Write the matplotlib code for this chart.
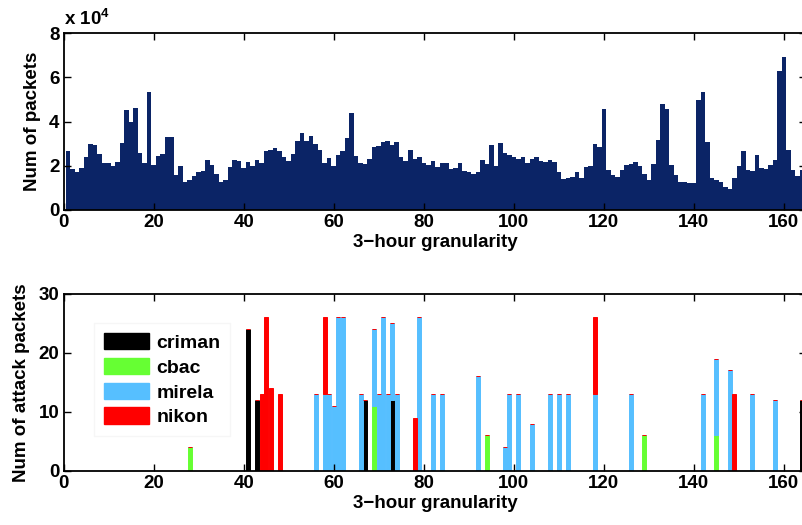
import matplotlib
matplotlib.use('Agg')
import matplotlib.pyplot as plt
import numpy as np

plt.rcParams['font.family'] = ['Liberation Sans', 'DejaVu Sans']
plt.rcParams['font.weight'] = 'bold'

# packets per 3-hour slot (x 1e4), slots 1..164
packets = [2.67, 1.85, 1.73, 1.91, 2.39, 2.98, 2.94, 2.53, 2.12, 2.12,
           1.99, 2.17, 3.03, 4.52, 3.98, 4.61, 2.58, 2.12, 5.33, 2.03,
           2.44, 2.53, 3.30, 3.30, 1.58, 1.99, 1.28, 1.36, 1.54, 1.72,
           1.76, 2.26, 2.03, 1.63, 1.28, 1.36, 1.94, 2.26, 2.21, 1.90,
           2.17, 1.99, 2.26, 2.12, 2.67, 2.71, 2.80, 2.67, 2.39, 2.21,
           2.53, 3.12, 3.48, 3.12, 3.34, 2.98, 2.71, 2.12, 2.35, 1.99,
           2.48, 2.67, 3.25, 4.38, 2.44, 2.12, 2.08, 2.30, 2.85, 2.89,
           3.07, 3.12, 2.94, 3.07, 2.39, 2.21, 2.71, 2.30, 2.39, 2.12,
           2.03, 2.21, 1.94, 2.12, 2.12, 1.85, 1.90, 2.12, 1.76, 1.72,
           1.63, 1.72, 2.26, 2.08, 2.94, 1.99, 3.03, 2.58, 2.48, 2.39,
           2.30, 2.39, 2.12, 2.30, 2.39, 2.21, 2.19, 2.26, 2.17, 1.72,
           1.40, 1.45, 1.49, 1.72, 1.45, 1.94, 1.99, 2.98, 2.85, 4.56,
           1.81, 1.58, 1.49, 1.81, 2.03, 2.08, 2.17, 1.99, 1.63, 1.36,
           2.08, 3.16, 4.79, 4.56, 2.03, 1.58, 1.27, 1.27, 1.22, 1.22,
           4.97, 5.33, 3.07, 1.45, 1.36, 1.27, 1.04, 0.95, 1.45, 1.99,
           2.67, 1.81, 1.76, 2.48, 1.90, 1.85, 2.03, 2.26, 6.28, 6.91,
           2.71, 1.81, 1.54, 1.81]

# attack packets: slot positions and counts for each attacker
criman_x = [41, 43, 67, 73, 164]
criman_y = [24, 12, 12, 12, 12]
cbac_x = [28, 69, 94, 129, 145]
cbac_y = [4, 11, 6, 6, 6]
mirela_x = [56, 58, 59, 60, 61, 62, 66, 69, 70, 71, 72, 73, 74, 79, 82, 84,
            92, 98, 99, 101, 104, 108, 110, 112, 118, 126, 142, 145, 148, 153, 158]
mirela_y = [13, 13, 13, 11, 26, 26, 13, 13, 13, 26, 13, 13, 13, 26, 13, 13,
            16, 4, 13, 13, 8, 13, 13, 13, 13, 13, 13, 13, 17, 13, 12]
nikon_x = [44, 45, 46, 48, 58, 78, 118, 149]
nikon_y = [13, 26, 14, 13, 13, 9, 13, 13]

names = ['criman', 'cbac', 'mirela', 'nikon']
colors = ['#000000', '#66ff33', '#56bfff', '#ff0000']

slots = np.arange(1, len(packets) + 1)
series = []
for xs, ys in [(criman_x, criman_y), (cbac_x, cbac_y), (mirela_x, mirela_y), (nikon_x, nikon_y)]:
    arr = np.zeros(len(slots))
    arr[np.array(xs) - 1] = ys
    series.append(arr)
total = np.sum(series, axis=0)
used = total > 0

fig = plt.figure(figsize=(8.02, 5.25), dpi=100)
W = 0.926
ax1 = fig.add_axes([0.0794, 0.600, W, 0.337])
ax2 = fig.add_axes([0.0794, 0.1034, W, 0.337])

ax1.bar(slots, packets, width=1.0, color='#0b2466', linewidth=0)
ax1.set_ylim(0, 8)
ax1.set_yticks([0, 2, 4, 6, 8])
ax1.set_ylabel('Num of packets', fontsize=13.5, fontweight='bold', labelpad=6)
ax1.text(0.0, 1.025, r'x $\mathregular{10^4}$', transform=ax1.transAxes,
         fontsize=13.5, fontweight='bold', ha='left', va='bottom')

bottom = np.zeros(len(slots))
handles = []
for name, c, vals in zip(names, colors, series):
    ax2.bar(slots[used], vals[used], width=0.85, bottom=bottom[used],
            color=c, edgecolor=c, linewidth=0.7)
    handles.append(plt.Rectangle((0, 0), 1, 1, color=c))
    bottom += vals
ax2.set_ylim(0, 30)
ax2.set_yticks([0, 10, 20, 30])
ax2.set_ylabel('Num of attack packets', fontsize=13.5, fontweight='bold', labelpad=6)
ax2.legend(handles, names, loc='upper left', bbox_to_anchor=(0.028, 0.89),
           fontsize=14, frameon=True, edgecolor='#f4f4f4', fancybox=False,
           handlelength=2.3, handleheight=0.95, labelspacing=0.3,
           handletextpad=0.4, borderpad=0.5, prop={'weight': 'bold', 'size': 14})

for ax in (ax1, ax2):
    ax.set_xlim(0, 165)
    ax.set_xticks(range(0, 161, 20))
    ax.set_xlabel('3\u2212hour granularity', fontsize=13.5, fontweight='bold', labelpad=2)
    ax.tick_params(direction='in', length=5, width=1, top=True, right=True,
                   labelsize=13.5, pad=3)
    for lab in ax.get_xticklabels() + ax.get_yticklabels():
        lab.set_fontweight('bold')
    for s in ax.spines.values():
        s.set_linewidth(1.3)

fig.savefig('out.png', dpi=100)
